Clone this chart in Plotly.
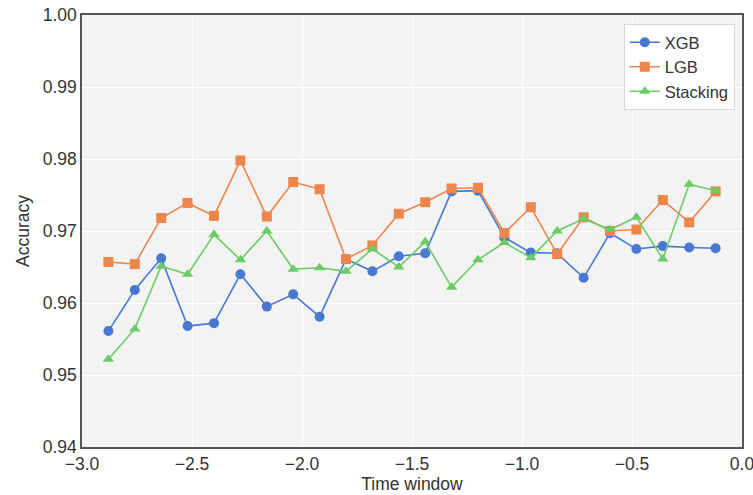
import plotly.graph_objects as go

time_window = [round(-2.88 + 0.12 * k, 2) for k in range(24)]

xgb = [0.9561, 0.9618, 0.9662, 0.9568, 0.9572, 0.9640, 0.9595, 0.9612, 0.9581,
       0.9661, 0.9644, 0.9665, 0.9669, 0.9755, 0.9756, 0.9691, 0.9670,
       0.9669, 0.9635, 0.9697, 0.9675, 0.9679, 0.9677, 0.9676]
lgb = [0.9657, 0.9654, 0.9718, 0.9739, 0.9721, 0.9798, 0.9720, 0.9768, 0.9758,
       0.9661, 0.9680, 0.9724, 0.9740, 0.9759, 0.9760, 0.9697, 0.9733,
       0.9668, 0.9719, 0.9700, 0.9702, 0.9743, 0.9712, 0.9755]
stacking = [0.9522, 0.9564, 0.9651, 0.9640, 0.9695, 0.9660, 0.9700, 0.9647, 0.9649,
            0.9644, 0.9675, 0.9650, 0.9685, 0.9622, 0.9660, 0.9684, 0.9663,
            0.9700, 0.9717, 0.9702, 0.9719, 0.9661, 0.9765, 0.9756]

series = [
    ("XGB", xgb, "#4878d0", "circle"),
    ("LGB", lgb, "#ee854a", "square"),
    ("Stacking", stacking, "#6acc64", "triangle-up"),
]

fig = go.Figure()
for name, vals, color, sym in series:
    fig.add_trace(go.Scatter(
        x=time_window, y=vals, name=name, mode="lines+markers",
        line=dict(color=color, width=1.6),
        marker=dict(symbol=sym, size=10, color=color),
    ))

font = "Liberation Sans, Arial, sans-serif"
fig.update_layout(
    width=753, height=495,
    margin=dict(l=82, r=11, t=15, b=48),
    plot_bgcolor="#f3f3f3", paper_bgcolor="white",
    font=dict(family=font, size=17, color="#333333"),
    showlegend=True,
    legend=dict(x=0.989, y=0.979, xanchor="right", yanchor="top",
                bgcolor="rgba(255,255,255,0.85)", bordercolor="#d8d8d8", borderwidth=1,
                font=dict(size=16.5, color="#333333"), tracegroupgap=0,
                itemwidth=30),
    xaxis=dict(range=[-3.0, 0.0], dtick=0.5, tickformat=".1f", automargin=False,
               ticklabeloverflow="allow",
               title=dict(text="Time window", standoff=2, font=dict(size=17.5)),
               showgrid=True, gridcolor="white", gridwidth=1.2,
               showline=True, linecolor="#555555", linewidth=1.5, mirror=True,
               zeroline=False, ticks="", tickfont=dict(size=17.5)),
    yaxis=dict(range=[0.94, 1.00], dtick=0.01, tickformat=".2f", automargin=False,
               ticklabeloverflow="allow",
               title=dict(text="Accuracy", standoff=9, font=dict(size=17.5)),
               showgrid=True, gridcolor="white", gridwidth=1.2,
               showline=True, linecolor="#555555", linewidth=1.5, mirror=True,
               zeroline=False, ticks="", tickfont=dict(size=17.5)),
)

fig.write_html("out.html")
